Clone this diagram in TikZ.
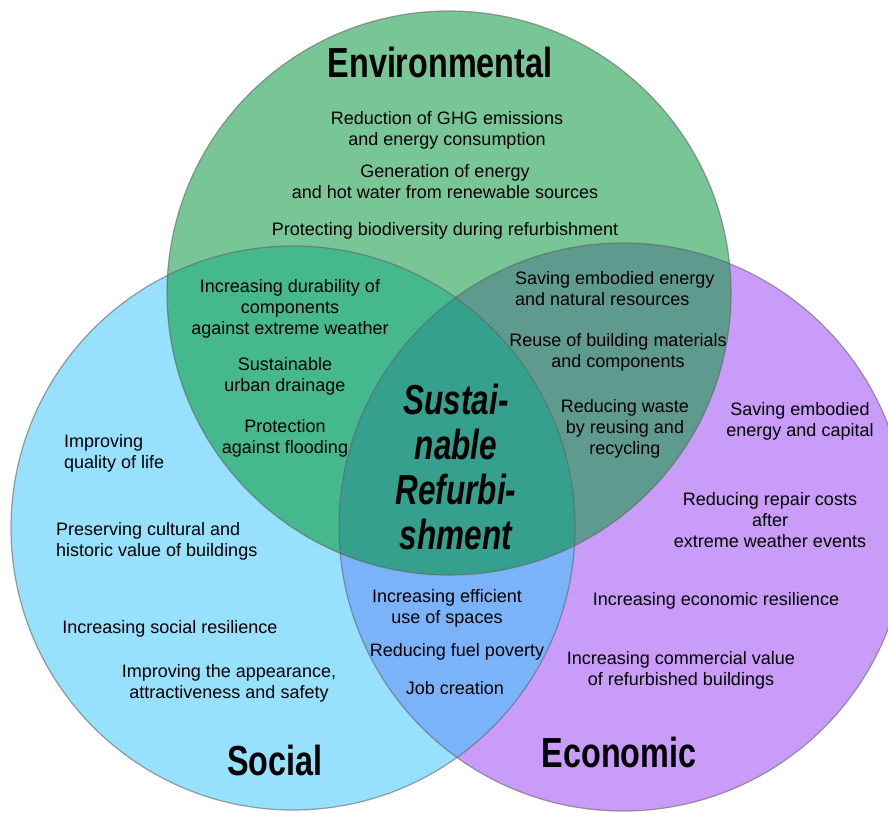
\documentclass[tikz,border=0pt]{standalone}
\usepackage{fontspec}
\setmainfont{Liberation Sans}
\newfontfamily\titlefont[FakeStretch=0.77]{Liberation Sans}
\newfontfamily\corefont[FakeStretch=0.75]{Liberation Sans}
\definecolor{cG}{RGB}{120,198,149}
\definecolor{cB}{RGB}{151,224,254}
\definecolor{cP}{RGB}{200,156,248}
\definecolor{cGB}{RGB}{69,184,142}
\definecolor{cGP}{RGB}{95,154,142}
\definecolor{cBP}{RGB}{122,179,250}
\definecolor{cGBP}{RGB}{54,160,142}
\definecolor{cEdge}{RGB}{100,100,100}
\begin{document}
\begin{tikzpicture}[x=1pt,y=-1pt,
  item/.style={inner sep=0pt,align=center,yshift=-2.5pt,font=\fontsize{18}{21}\selectfont},
  itemL/.style={inner sep=0pt,align=left,anchor=west,yshift=-2.5pt,font=\fontsize{18}{21}\selectfont},
  title/.style={inner sep=0pt,font=\titlefont\bfseries\fontsize{42}{45}\selectfont},
  core/.style={inner sep=0pt,align=center,font=\corefont\bfseries\itshape\fontsize{42}{45}\selectfont},
  edge/.style={draw=cEdge,draw opacity=0.6,line width=1.2pt}]
\useasboundingbox (0,0) rectangle (888,812);
\clip (0,0) rectangle (888,812);
\def\pG{(449,293) circle[radius=282pt]}
\def\pB{(293,528) circle[radius=282pt]}
\def\pP{(623,527) circle[radius=284pt]}
% base fills
\fill[cB] \pB;
\fill[cP] \pP;
\fill[cG] \pG;
\begin{scope}\clip \pB; \fill[cBP] \pP; \end{scope}
\begin{scope}\clip \pG; \fill[cGB] \pB; \end{scope}
\begin{scope}\clip \pG; \fill[cGP] \pP; \end{scope}
\begin{scope}\clip \pG; \clip \pB; \fill[cGBP] \pP; \end{scope}
% outlines
\draw[edge] \pB;
\draw[edge] \pP;
\draw[edge] \pG;
% titles
\node[title] (env) at (440,62) {Environmental};
\node[title] (soc) at (275,760) {Social};
\node[title] (eco) at (619,752) {Economic};
\node[core] (core) at (456,467) {Sustai-\\[0pt]nable\\Refurbi-\\shment};
% environmental
\node[item] (e1) at (447,127.5) {Reduction of GHG emissions\\and energy consumption};
\node[item] (e2) at (445,179.5) {Generation of energy\\and hot water from renewable sources};
\node[item] (e3) at (445,228) {Protecting biodiversity during refurbishment};
% env & social
\node[item] (es1) at (290,306) {Increasing durability of\\components\\against extreme weather};
\node[item] (es2) at (285,373.5) {Sustainable\\urban drainage};
\node[item] (es3) at (285,435.5) {Protection\\against flooding};
% social
\node[itemL] (s1) at (64,451) {Improving\\quality of life};
\node[itemL] (s2) at (56,539) {Preserving cultural and\\historic value of buildings};
\node[item] (s3) at (170,626) {Increasing social resilience};
\node[item] (s4) at (229,681) {Improving the appearance,\\attractiveness and safety};
% env & economic
\node[itemL] (ep1) at (515,286.5) {Saving embodied energy\\and natural resources};
\node[item] (ep2) at (618,349.5) {Reuse of building materials\\and components};
\node[item] (ep3) at (625,426.5) {Reducing waste\\by reusing and\\recycling};
% economic
\node[item] (p1) at (800,418.5) {Saving embodied\\energy and capital};
\node[item] (p2) at (770,518) {Reducing repair costs\\after\\extreme weather events};
\node[item] (p3) at (716,598) {Increasing economic resilience};
\node[item] (p4) at (681,667.5) {Increasing commercial value\\of refurbished buildings};
% social & economic
\node[item] (sp1) at (447,605.5) {Increasing efficient\\use of spaces};
\node[item] (sp2) at (457,649) {Reducing fuel poverty};
\node[item] (sp3) at (455,686) {Job creation};
\end{tikzpicture}
\end{document}
